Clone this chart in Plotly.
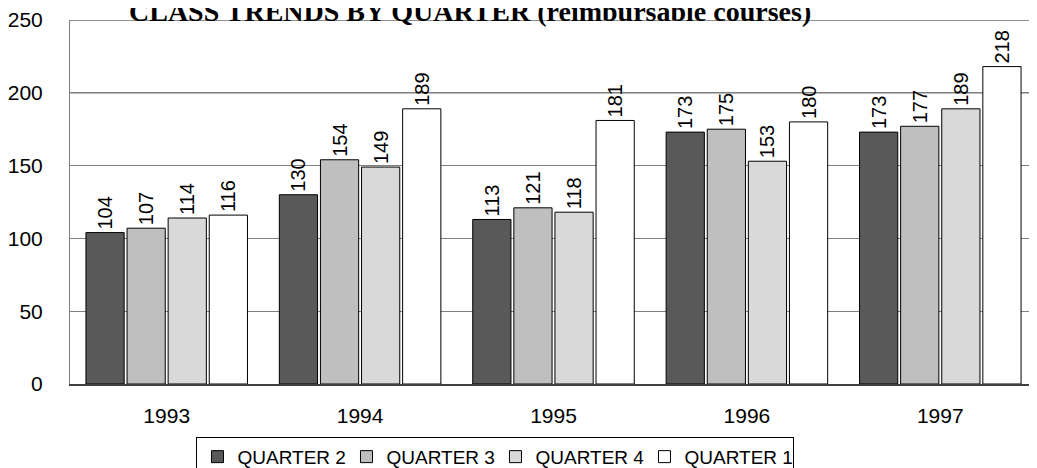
import plotly.graph_objects as go

years = ["1993", "1994", "1995", "1996", "1997"]
series_names = ["QUARTER 2", "QUARTER 3", "QUARTER 4", "QUARTER 1"]
q2 = [104, 130, 113, 173, 173]
q3 = [107, 154, 121, 175, 177]
q4 = [114, 149, 118, 153, 189]
q1 = [116, 189, 181, 180, 218]
colors = ["#595959", "#bfbfbf", "#d9d9d9", "#ffffff"]
y_ticks = [0, 50, 100, 150, 200, 250]

FONT = "Arial"

fig = go.Figure()
for name, vals, col in zip(series_names, [q2, q3, q4, q1], colors):
    fig.add_trace(go.Bar(
        x=years, y=vals, name=name,
        marker=dict(color=col, line=dict(color="#000000", width=1)),
        text=[str(v) for v in vals], textposition="outside", textangle=-90,
        textfont=dict(size=20, color="#000000"),
    ))

# darker upper grid lines
for t in y_ticks[-2:]:
    fig.add_hline(y=t, line=dict(color="#202020", width=1), layer="below")

fig.update_layout(
    width=1037, height=468,
    margin=dict(l=62, r=8, t=12, b=92, autoexpand=False),
    plot_bgcolor="#ffffff", paper_bgcolor="#ffffff",
    barmode="group", bargap=0.15, bargroupgap=0.07,
    font=dict(family=FONT, size=21, color="#000000"),
    showlegend=True,
    legend=dict(orientation="h", x=0.44, xanchor="center", y=-0.145, yanchor="top",
                bordercolor="#000000", borderwidth=1, bgcolor="#ffffff",
                font=dict(size=19), tracegroupgap=0, itemwidth=30,
                entrywidth=104, entrywidthmode="pixels"),
)
fig.update_yaxes(range=[0, 250], tickvals=y_ticks,
                 showgrid=True, gridcolor="#808080", gridwidth=1,
                 showline=True, linecolor="#808080", linewidth=1,
                 ticks="outside", ticklen=22, tickcolor="rgba(0,0,0,0)",
                 zeroline=False, automargin=False, tickfont=dict(size=21))
fig.update_xaxes(showline=True, linecolor="#404040", linewidth=2,
                 ticks="outside", ticklen=12, tickcolor="rgba(0,0,0,0)",
                 automargin=False, tickfont=dict(size=21))
fig.add_annotation(text="<b>CLASS TRENDS BY QUARTER (reimbursable courses)</b>",
                   xref="paper", yref="paper", x=0.414, y=1.0, yshift=9,
                   xanchor="center", yanchor="middle", showarrow=False,
                   font=dict(family="Times New Roman", size=28, color="#000000"))
fig.write_html("out.html")
